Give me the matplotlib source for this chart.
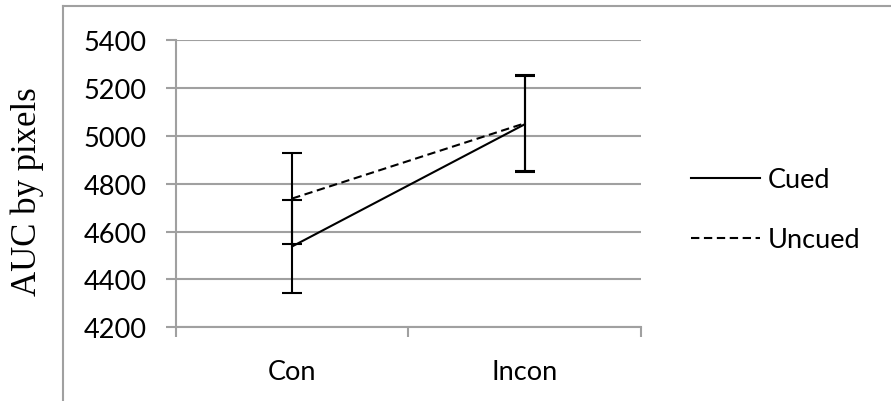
import matplotlib.pyplot as plt
from matplotlib.lines import Line2D

# Mean AUC (pixels) and error bar half-widths per condition
conditions = ["Con", "Incon"]
cued = [4538, 5048]
cued_err = [195, 200]
uncued = [4738, 5052]
uncued_err = [190, 200]
y_ticks = [4200, 4400, 4600, 4800, 5000, 5200, 5400]

grey = "#a0a0a0"
plt.rcParams["font.family"] = ["Lato", "DejaVu Sans"]

fig = plt.figure(figsize=(8.91, 4.02), dpi=100)
ax = fig.add_axes([0.1975, 0.1833, 0.5219, 0.7147])

# outer chart border (only top and left show)
fig.add_artist(Line2D([62.7 / 891, 1.0], [1 - 6.7 / 402, 1 - 6.7 / 402],
                      color=grey, lw=1.5, transform=fig.transFigure))
fig.add_artist(Line2D([62.7 / 891, 62.7 / 891], [1 - 6.7 / 402, 0.0],
                      color=grey, lw=1.5, transform=fig.transFigure))

x = [0.5, 1.5]
dash = (0, (4, 2.2))
ax.errorbar(x, cued, yerr=cued_err, color="black", lw=1.5, capsize=7,
            capthick=1.5, elinewidth=1.5, label="Cued")
ax.errorbar(x, uncued, yerr=uncued_err, color="black", lw=1.5, capsize=7,
            capthick=1.5, elinewidth=1.5, ls=dash, label="Uncued")

ax.set_xlim(0, 2)
ax.set_ylim(4200, 5400)
ax.set_yticks(y_ticks)
ax.set_yticklabels([str(t) for t in y_ticks], fontsize=19.5)
ax.yaxis.grid(True, color=grey, lw=1.5)
ax.set_axisbelow(True)

ax.set_xticks([0, 1, 2])
ax.set_xticklabels([])
ax.set_xticks(x, minor=True)
ax.set_xticklabels(conditions, minor=True, fontsize=19.5)
ax.tick_params(axis="x", which="minor", length=0, pad=23)
ax.tick_params(axis="both", which="major", length=7, width=1.5, color=grey)
ax.tick_params(axis="y", pad=14)

for side in ["top", "right"]:
    ax.spines[side].set_visible(False)
for side in ["left", "bottom"]:
    ax.spines[side].set_color(grey)
    ax.spines[side].set_linewidth(1.5)

fig.text(27 / 891, 1 - 192 / 402, "AUC by pixels", rotation=90,
         family="Liberation Serif", fontsize=25, ha="center", va="center")

handles = [Line2D([], [], color="black", lw=1.5),
           Line2D([], [], color="black", lw=1.5, ls=dash)]
fig.legend(handles, ["Cued", "Uncued"], loc="upper left",
           bbox_to_anchor=(691 / 891, 1 - 168 / 402), frameon=False,
           fontsize=19.5, handlelength=2.55, handletextpad=0.3,
           labelspacing=1.3, borderpad=0, borderaxespad=0)

fig.savefig("out.png", dpi=100)
